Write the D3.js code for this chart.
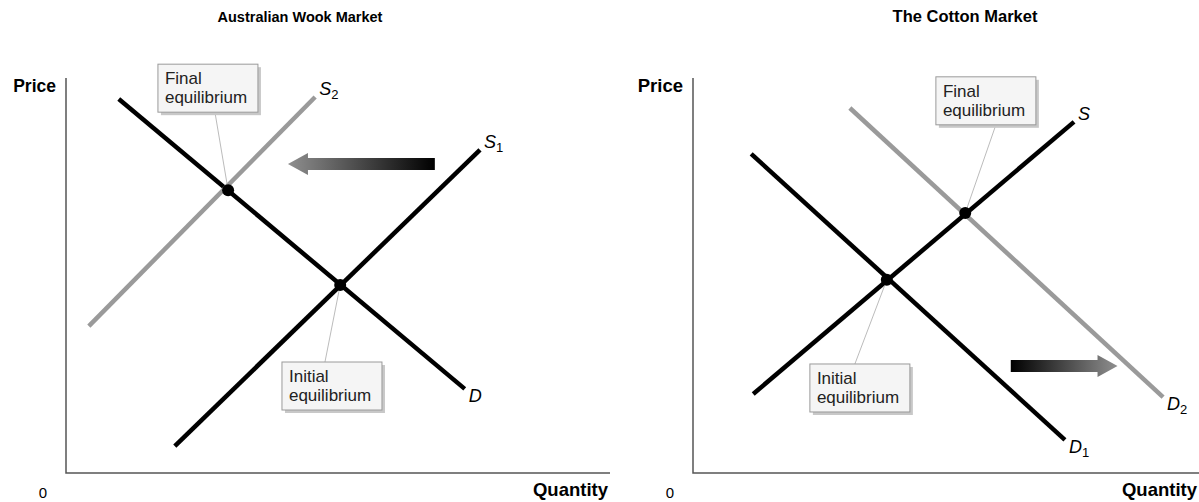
<!DOCTYPE html>
<html>
<head>
<meta charset="utf-8">
<script src="https://cdn.jsdelivr.net/npm/d3@7"></script>
<style>
  body { margin: 0; background: #fff; }
  text { font-family: "Liberation Sans", Arial, sans-serif; }
</style>
</head>
<body>
<svg id="chart" width="1199" height="502"></svg>
<script>
// panel titles
let titles = ["Australian Wook Market", "The Cotton Market"];

// curves, in quantity/price units (0-100 on both axes)
let woolCurves = [
  {name: "D", sub: "", color: "#000", pts: [[9.7, 94.7], [73.3, 21.3]]},
  {name: "S", sub: "1", color: "#000", pts: [[20.0, 6.8], [76.1, 81.8]]},
  {name: "S", sub: "2", color: "#9a9a9a", pts: [[4.2, 37.2], [45.8, 95.2]]}
];
let cottonCurves = [
  {name: "D", sub: "1", color: "#000", pts: [[11.5, 80.8], [73.5, 8.4]]},
  {name: "S", sub: "", color: "#000", pts: [[11.9, 20.0], [75.3, 88.9]]},
  {name: "D", sub: "2", color: "#9a9a9a", pts: [[31.0, 92.4], [92.9, 19.2]]}
];

// equilibrium points
let woolPoints = [
  {label: ["Initial", "equilibrium"], q: 50.4, p: 47.6, box: [39.7, 28.1], lead: 0.43},
  {label: ["Final", "equilibrium"], q: 29.8, p: 71.6, box: [16.9, 103.5], lead: 0.57}
];
let cottonPoints = [
  {label: ["Initial", "equilibrium"], q: 38.3, p: 48.9, box: [23.1, 27.6], lead: 0.45},
  {label: ["Final", "equilibrium"], q: 53.8, p: 65.8, box: [48.0, 100.3], lead: 0.6}
];

// shift arrows: [from, to] quantity at a price
let woolShift = {from: 67.8, to: 40.8, p: 78.2};
let cottonShift = {from: 62.8, to: 83.9, p: 27.1};

let svg = d3.select("#chart");

let defs = svg.append("defs");
function grad(id, x1, x2) {
  let g = defs.append("linearGradient").attr("id", id)
    .attr("x1", x1).attr("x2", x2).attr("y1", "0").attr("y2", "0");
  g.append("stop").attr("offset", "0%").attr("stop-color", "#000");
  g.append("stop").attr("offset", "100%").attr("stop-color", "#8f8f8f");
}
grad("gLeft", "1", "0");
grad("gRight", "0", "1");

function drawPanel(cfg) {
  let xScale = d3.scaleLinear().domain([0, 100]).range([cfg.x0, cfg.x1]);
  let yScale = d3.scaleLinear().domain([0, 100]).range([473, 78]);
  let g = svg.append("g");

  g.append("text")
    .attr("x", cfg.titleX).attr("y", 22)
    .attr("text-anchor", "middle")
    .style("font-size", cfg.titleSize).style("font-weight", "bold")
    .text(cfg.title);

  // axes
  g.append("path")
    .attr("d", `M${cfg.x0},78 V473 H${cfg.x1}`)
    .attr("fill", "none").attr("stroke", "#555").attr("stroke-width", 1.5);

  g.append("text")
    .attr("x", cfg.x0 - 10).attr("y", 92)
    .attr("text-anchor", "end")
    .style("font-size", cfg.priceSize).style("font-weight", "bold")
    .text("Price");
  g.append("text")
    .attr("x", cfg.x1 - 2).attr("y", 496)
    .attr("text-anchor", "end")
    .style("font-size", "18.5px").style("font-weight", "bold")
    .text("Quantity");
  g.append("text")
    .attr("x", cfg.x0 - 23).attr("y", 498)
    .attr("text-anchor", "middle")
    .style("font-size", "15px")
    .text("0");

  // shift arrow
  let ay = yScale(cfg.shift.p);
  let ax0 = xScale(cfg.shift.from), ax1 = xScale(cfg.shift.to);
  let dir = ax1 > ax0 ? 1 : -1;
  let hb = ax1 - dir * 20;
  g.append("path")
    .attr("d", `M${ax0},${ay - 6} L${hb},${ay - 6} L${hb},${ay - 11} L${ax1},${ay} L${hb},${ay + 11} L${hb},${ay + 6} L${ax0},${ay + 6} Z`)
    .attr("fill", dir < 0 ? "url(#gLeft)" : "url(#gRight)");

  // curves
  let line = d3.line().x(d => xScale(d[0])).y(d => yScale(d[1]));
  g.selectAll(".curve").data(cfg.curves).enter()
    .append("path")
    .attr("class", "curve")
    .attr("d", d => line(d.pts))
    .attr("fill", "none")
    .attr("stroke", d => d.color)
    .attr("stroke-width", 4.5);

  // curve labels at the upper/right end
  let labels = g.selectAll(".clabel").data(cfg.curves).enter()
    .append("text")
    .attr("class", "clabel")
    .attr("x", d => xScale(d.pts[1][0]) + 4)
    .attr("y", d => {
      let rising = d.pts[1][1] > d.pts[0][1];
      return yScale(d.pts[1][1]) + (rising ? -2 : 13);
    })
    .style("font-size", "18px");
  labels.append("tspan").style("font-style", "italic").text(d => d.name);
  labels.append("tspan").attr("dy", 4).style("font-size", "13px").text(d => d.sub);

  // equilibrium annotations
  cfg.points.forEach(pt => {
    let bx = xScale(pt.box[0]), by = yScale(pt.box[1]);
    let bw = 100, bh = 48;
    let px = xScale(pt.q), py = yScale(pt.p);
    let ly = py > by ? by + bh : by;
    g.append("line")
      .attr("x1", bx + bw * pt.lead).attr("y1", ly)
      .attr("x2", px).attr("y2", py)
      .attr("stroke", "#aaa").attr("stroke-width", 0.8);
    g.append("rect")
      .attr("x", bx + 3).attr("y", by + 3)
      .attr("width", bw).attr("height", bh)
      .attr("fill", "#c8c8c8");
    g.append("rect")
      .attr("x", bx).attr("y", by)
      .attr("width", bw).attr("height", bh)
      .attr("fill", "#f5f5f5").attr("stroke", "#9a9a9a").attr("stroke-width", 1);
    pt.label.forEach((t, i) => {
      g.append("text")
        .attr("x", bx + 7).attr("y", by + 20 + i * 19)
        .style("font-size", "17px").style("fill", "#222")
        .text(t);
    });
    g.append("circle")
      .attr("cx", px).attr("cy", py).attr("r", 6)
      .attr("fill", "#000");
  });
}

drawPanel({
  title: titles[0], titleX: 300, titleSize: "14.5px", priceSize: "17.5px", x0: 66, x1: 610,
  curves: woolCurves, points: woolPoints, shift: woolShift
});
drawPanel({
  title: titles[1], titleX: 965, titleSize: "16.5px", priceSize: "18.5px", x0: 693, x1: 1199,
  curves: cottonCurves, points: cottonPoints, shift: cottonShift
});
</script>
</body>
</html>
